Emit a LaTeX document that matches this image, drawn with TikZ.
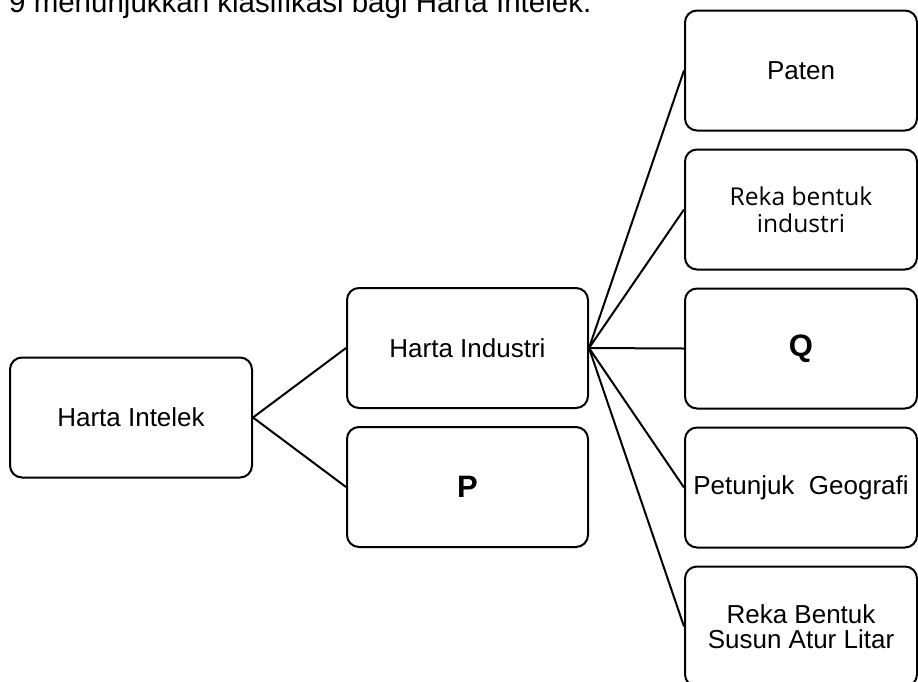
\documentclass[tikz,border=0pt]{standalone}
\usepackage{fontspec}
\setmainfont{Liberation Sans}
\newfontfamily\rekafont{Open Sans}
\usetikzlibrary{positioning}

\begin{document}
\begin{tikzpicture}[x=1pt,y=-1pt,
    hibox/.style={draw=black,fill=white,rounded corners=12pt,
        line width=2pt,align=center,inner sep=4pt,
        minimum height=120pt,font=\fontsize{26}{25}\selectfont},
    himid/.style={hibox,minimum width=241pt},
    hiright/.style={hibox,minimum width=232pt},
    hiletter/.style={font=\fontsize{31}{31}\selectfont\bfseries},
    hiline/.style={draw=black,line width=2pt}
]
\useasboundingbox (0,0) rectangle (918,681);
\clip (0,0) rectangle (918,681);
\fill[white] (0,0) rectangle (918,681);
% caption line, cut at the top edge
\node[anchor=base west,inner sep=0pt,font=\fontsize{29.5}{30}\selectfont]
    (caption) at (9,12.5) {9 menunjukkan klasifikasi bagi Harta Intelek.};
\node[hibox,minimum width=242pt] (intelek) at (131,417.5) {Harta Intelek};
\node[himid] (industri) at (467.5,348) {Harta Industri};
\node[himid,hiletter,below=17pt of industri] (p) {P};
\node[hiright] (paten) at (801,70.5) {Paten};
\node[hiright,below=17pt of paten,font=\rekafont\fontsize{24.6}{27}\selectfont]
    (rbindustri) {Reka bentuk\\industri};
\node[hiright,hiletter,below=17pt of rbindustri] (q) {Q};
\node[hiright,below=17pt of q] (geografi) {Petunjuk\ \ Geografi};
\node[hiright,below=17pt of geografi] (litar) {Reka Bentuk\\Susun Atur Litar};
\draw[hiline] (intelek.east)--(industri.west);
\draw[hiline] (intelek.east)--(p.west);
\foreach \n in {paten,rbindustri,q,geografi,litar}
    \draw[hiline] (industri.east)--(\n.west);
\end{tikzpicture}
\end{document}
